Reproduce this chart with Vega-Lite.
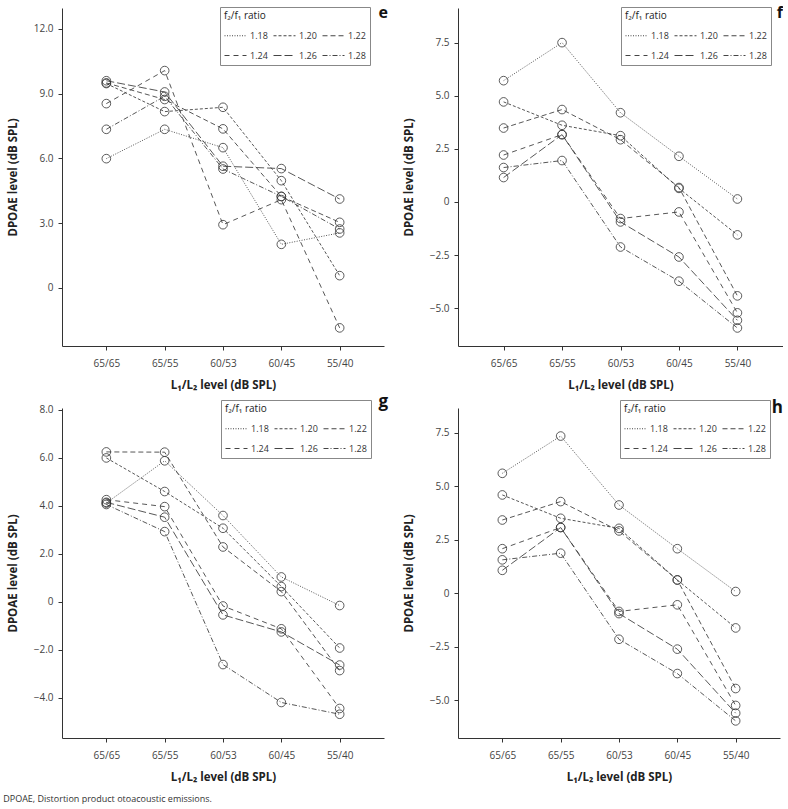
{
  "$schema": "https://vega.github.io/schema/vega-lite/v6.json",
  "padding": {"left": 3, "top": 4, "right": 0, "bottom": 2},
  "background": "white",
  "title": {"text": "DPOAE, Distortion product otoacoustic emissions.", "orient": "bottom", "anchor": "start", "fontSize": 9, "fontWeight": "normal", "font": "Open Sans", "color": "#333", "offset": 12, "dx": -4},
  "data": {"values": [
    {"panel":"e","ratio":"1.18","level":"65/65","value":5.99},{"panel":"e","ratio":"1.18","level":"65/55","value":7.35},{"panel":"e","ratio":"1.18","level":"60/53","value":6.5},{"panel":"e","ratio":"1.18","level":"60/45","value":2.02},{"panel":"e","ratio":"1.18","level":"55/40","value":2.55},
    {"panel":"e","ratio":"1.20","level":"65/65","value":9.47},{"panel":"e","ratio":"1.20","level":"65/55","value":8.17},{"panel":"e","ratio":"1.20","level":"60/53","value":8.37},{"panel":"e","ratio":"1.20","level":"60/45","value":4.97},{"panel":"e","ratio":"1.20","level":"55/40","value":0.57},
    {"panel":"e","ratio":"1.22","level":"65/65","value":9.5},{"panel":"e","ratio":"1.22","level":"65/55","value":8.73},{"panel":"e","ratio":"1.22","level":"60/53","value":7.37},{"panel":"e","ratio":"1.22","level":"60/45","value":4.24},{"panel":"e","ratio":"1.22","level":"55/40","value":3.04},
    {"panel":"e","ratio":"1.24","level":"65/65","value":8.54},{"panel":"e","ratio":"1.24","level":"65/55","value":10.07},{"panel":"e","ratio":"1.24","level":"60/53","value":2.93},{"panel":"e","ratio":"1.24","level":"60/45","value":4.09},{"panel":"e","ratio":"1.24","level":"55/40","value":-1.85},
    {"panel":"e","ratio":"1.26","level":"65/65","value":9.6},{"panel":"e","ratio":"1.26","level":"65/55","value":9.08},{"panel":"e","ratio":"1.26","level":"60/53","value":5.64},{"panel":"e","ratio":"1.26","level":"60/45","value":5.53},{"panel":"e","ratio":"1.26","level":"55/40","value":4.12},
    {"panel":"e","ratio":"1.28","level":"65/65","value":7.35},{"panel":"e","ratio":"1.28","level":"65/55","value":8.88},{"panel":"e","ratio":"1.28","level":"60/53","value":5.51},{"panel":"e","ratio":"1.28","level":"60/45","value":4.24},{"panel":"e","ratio":"1.28","level":"55/40","value":2.73},
    {"panel":"f","ratio":"1.18","level":"65/65","value":5.71},{"panel":"f","ratio":"1.18","level":"65/55","value":7.5},{"panel":"f","ratio":"1.18","level":"60/53","value":4.2},{"panel":"f","ratio":"1.18","level":"60/45","value":2.15},{"panel":"f","ratio":"1.18","level":"55/40","value":0.14},
    {"panel":"f","ratio":"1.20","level":"65/65","value":4.71},{"panel":"f","ratio":"1.20","level":"65/55","value":3.61},{"panel":"f","ratio":"1.20","level":"60/53","value":3.12},{"panel":"f","ratio":"1.20","level":"60/45","value":0.64},{"panel":"f","ratio":"1.20","level":"55/40","value":-1.55},
    {"panel":"f","ratio":"1.22","level":"65/65","value":3.48},{"panel":"f","ratio":"1.22","level":"65/55","value":4.35},{"panel":"f","ratio":"1.22","level":"60/53","value":2.93},{"panel":"f","ratio":"1.22","level":"60/45","value":0.68},{"panel":"f","ratio":"1.22","level":"55/40","value":-4.42},
    {"panel":"f","ratio":"1.24","level":"65/65","value":2.21},{"panel":"f","ratio":"1.24","level":"65/55","value":3.17},{"panel":"f","ratio":"1.24","level":"60/53","value":-0.78},{"panel":"f","ratio":"1.24","level":"60/45","value":-0.47},{"panel":"f","ratio":"1.24","level":"55/40","value":-5.22},
    {"panel":"f","ratio":"1.26","level":"65/65","value":1.15},{"panel":"f","ratio":"1.26","level":"65/55","value":3.17},{"panel":"f","ratio":"1.26","level":"60/53","value":-0.94},{"panel":"f","ratio":"1.26","level":"60/45","value":-2.59},{"panel":"f","ratio":"1.26","level":"55/40","value":-5.57},
    {"panel":"f","ratio":"1.28","level":"65/65","value":1.62},{"panel":"f","ratio":"1.28","level":"65/55","value":1.95},{"panel":"f","ratio":"1.28","level":"60/53","value":-2.12},{"panel":"f","ratio":"1.28","level":"60/45","value":-3.73},{"panel":"f","ratio":"1.28","level":"55/40","value":-5.93},
    {"panel":"g","ratio":"1.18","level":"65/65","value":4.12},{"panel":"g","ratio":"1.18","level":"65/55","value":5.88},{"panel":"g","ratio":"1.18","level":"60/53","value":3.6},{"panel":"g","ratio":"1.18","level":"60/45","value":1.04},{"panel":"g","ratio":"1.18","level":"55/40","value":-0.15},
    {"panel":"g","ratio":"1.20","level":"65/65","value":6.0},{"panel":"g","ratio":"1.20","level":"65/55","value":4.6},{"panel":"g","ratio":"1.20","level":"60/53","value":3.07},{"panel":"g","ratio":"1.20","level":"60/45","value":0.64},{"panel":"g","ratio":"1.20","level":"55/40","value":-1.92},
    {"panel":"g","ratio":"1.22","level":"65/65","value":6.25},{"panel":"g","ratio":"1.22","level":"65/55","value":6.24},{"panel":"g","ratio":"1.22","level":"60/53","value":2.29},{"panel":"g","ratio":"1.22","level":"60/45","value":0.43},{"panel":"g","ratio":"1.22","level":"55/40","value":-2.86},
    {"panel":"g","ratio":"1.24","level":"65/65","value":4.26},{"panel":"g","ratio":"1.24","level":"65/55","value":3.97},{"panel":"g","ratio":"1.24","level":"60/53","value":-0.17},{"panel":"g","ratio":"1.24","level":"60/45","value":-1.12},{"panel":"g","ratio":"1.24","level":"55/40","value":-4.44},
    {"panel":"g","ratio":"1.26","level":"65/65","value":4.15},{"panel":"g","ratio":"1.26","level":"65/55","value":3.53},{"panel":"g","ratio":"1.26","level":"60/53","value":-0.54},{"panel":"g","ratio":"1.26","level":"60/45","value":-1.25},{"panel":"g","ratio":"1.26","level":"55/40","value":-2.63},
    {"panel":"g","ratio":"1.28","level":"65/65","value":4.06},{"panel":"g","ratio":"1.28","level":"65/55","value":2.93},{"panel":"g","ratio":"1.28","level":"60/53","value":-2.61},{"panel":"g","ratio":"1.28","level":"60/45","value":-4.19},{"panel":"g","ratio":"1.28","level":"55/40","value":-4.68},
    {"panel":"h","ratio":"1.18","level":"65/65","value":5.6},{"panel":"h","ratio":"1.18","level":"65/55","value":7.34},{"panel":"h","ratio":"1.18","level":"60/53","value":4.12},{"panel":"h","ratio":"1.18","level":"60/45","value":2.08},{"panel":"h","ratio":"1.18","level":"55/40","value":0.08},
    {"panel":"h","ratio":"1.20","level":"65/65","value":4.59},{"panel":"h","ratio":"1.20","level":"65/55","value":3.5},{"panel":"h","ratio":"1.20","level":"60/53","value":3.03},{"panel":"h","ratio":"1.20","level":"60/45","value":0.62},{"panel":"h","ratio":"1.20","level":"55/40","value":-1.62},
    {"panel":"h","ratio":"1.22","level":"65/65","value":3.42},{"panel":"h","ratio":"1.22","level":"65/55","value":4.28},{"panel":"h","ratio":"1.22","level":"60/53","value":2.91},{"panel":"h","ratio":"1.22","level":"60/45","value":0.62},{"panel":"h","ratio":"1.22","level":"55/40","value":-4.45},
    {"panel":"h","ratio":"1.24","level":"65/65","value":2.08},{"panel":"h","ratio":"1.24","level":"65/55","value":3.07},{"panel":"h","ratio":"1.24","level":"60/53","value":-0.85},{"panel":"h","ratio":"1.24","level":"60/45","value":-0.54},{"panel":"h","ratio":"1.24","level":"55/40","value":-5.24},
    {"panel":"h","ratio":"1.26","level":"65/65","value":1.07},{"panel":"h","ratio":"1.26","level":"65/55","value":3.07},{"panel":"h","ratio":"1.26","level":"60/53","value":-0.95},{"panel":"h","ratio":"1.26","level":"60/45","value":-2.61},{"panel":"h","ratio":"1.26","level":"55/40","value":-5.6},
    {"panel":"h","ratio":"1.28","level":"65/65","value":1.56},{"panel":"h","ratio":"1.28","level":"65/55","value":1.87},{"panel":"h","ratio":"1.28","level":"60/53","value":-2.15},{"panel":"h","ratio":"1.28","level":"60/45","value":-3.75},{"panel":"h","ratio":"1.28","level":"55/40","value":-5.96}
  ]},
  "resolve": {"scale": {"strokeDash": "independent"}, "legend": {"strokeDash": "independent"}},
  "vconcat": [
    {"resolve": {"scale": {"strokeDash": "independent"}, "legend": {"strokeDash": "independent"}},
     "hconcat": [
      {"width": 322, "height": 338,
       "transform": [{"filter": "datum.panel === 'e'"}],
       "title": {"text": "e", "anchor": "end", "frame": "group", "fontSize": 16, "fontWeight": "bold", "font": "Open Sans", "color": "#111", "offset": 0, "dy": 14, "dx": 4},
       "encoding": {
         "x": {"field": "level", "type": "ordinal", "sort": ["65/65","65/55","60/53","60/45","55/40"], "scale": {"type": "point", "padding": 0.76}, "axis": {"title": "L₁/L₂ level (dB SPL)"}},
         "y": {"field": "value", "type": "quantitative", "scale": {"domain": [-2.69, 12.97], "nice": false, "zero": false}, "axis": {"values": [0, 3, 6, 9, 12], "title": "DPOAE level (dB SPL)"}}
       },
       "layer": [
         {"mark": {"type": "line", "color": "#444", "strokeWidth": 0.9}, "encoding": {"strokeDash": {"field": "ratio", "type": "nominal", "title": "f₂/f₁ ratio", "scale": {"domain": ["1.18","1.20","1.22","1.24","1.26","1.28"], "range": [[1,1.5],[3,2],[5,3],[5,4],[8,3],[5,2,1,2]]}, "legend": {"orient": "none", "legendX": 158, "legendY": -1}}}},
         {"mark": {"type": "point", "shape": "circle", "filled": false, "size": 75, "color": "#333", "strokeWidth": 0.8, "opacity": 1}}
       ]},
      {"width": 325, "height": 338,
       "transform": [{"filter": "datum.panel === 'f'"}],
       "title": {"text": "f", "anchor": "end", "frame": "group", "fontSize": 16, "fontWeight": "bold", "font": "Open Sans", "color": "#111", "offset": 0, "dy": 14, "dx": 0},
       "encoding": {
         "x": {"field": "level", "type": "ordinal", "sort": ["65/65","65/55","60/53","60/45","55/40"], "scale": {"type": "point", "padding": 0.78}, "axis": {"title": "L₁/L₂ level (dB SPL)"}},
         "y": {"field": "value", "type": "quantitative", "scale": {"domain": [-6.78, 9.13], "nice": false, "zero": false}, "axis": {"values": [-5, -2.5, 0, 2.5, 5, 7.5], "title": "DPOAE level (dB SPL)"}}
       },
       "layer": [
         {"mark": {"type": "line", "color": "#444", "strokeWidth": 0.9}, "encoding": {"strokeDash": {"field": "ratio", "type": "nominal", "title": "f₂/f₁ ratio", "scale": {"domain": ["1.18","1.20","1.22","1.24","1.26","1.28"], "range": [[1,1.5],[3,2],[5,3],[5,4],[8,3],[5,2,1,2]]}, "legend": {"orient": "none", "legendX": 163, "legendY": -1}}}},
         {"mark": {"type": "point", "shape": "circle", "filled": false, "size": 75, "color": "#333", "strokeWidth": 0.8, "opacity": 1}}
       ]}
    ]},
    {"resolve": {"scale": {"strokeDash": "independent"}, "legend": {"strokeDash": "independent"}},
     "hconcat": [
      {"width": 322, "height": 330,
       "transform": [{"filter": "datum.panel === 'g'"}],
       "title": {"text": "g", "anchor": "end", "frame": "group", "fontSize": 17, "fontWeight": "bold", "font": "Open Sans", "color": "#111", "offset": 0, "dy": 11, "dx": 4},
       "encoding": {
         "x": {"field": "level", "type": "ordinal", "sort": ["65/65","65/55","60/53","60/45","55/40"], "scale": {"type": "point", "padding": 0.76}, "axis": {"title": "L₁/L₂ level (dB SPL)"}},
         "y": {"field": "value", "type": "quantitative", "scale": {"domain": [-5.67, 8.08], "nice": false, "zero": false}, "axis": {"values": [-4, -2, 0, 2, 4, 6, 8], "title": "DPOAE level (dB SPL)"}}
       },
       "layer": [
         {"mark": {"type": "line", "color": "#444", "strokeWidth": 0.9}, "encoding": {"strokeDash": {"field": "ratio", "type": "nominal", "title": "f₂/f₁ ratio", "scale": {"domain": ["1.18","1.20","1.22","1.24","1.26","1.28"], "range": [[1,1.5],[3,2],[5,3],[5,4],[8,3],[5,2,1,2]]}, "legend": {"orient": "none", "legendX": 159, "legendY": -8}}}},
         {"mark": {"type": "point", "shape": "circle", "filled": false, "size": 75, "color": "#333", "strokeWidth": 0.8, "opacity": 1}}
       ]},
      {"width": 322, "height": 330,
       "transform": [{"filter": "datum.panel === 'h'"}],
       "title": {"text": "h", "anchor": "end", "frame": "group", "fontSize": 17, "fontWeight": "bold", "font": "Open Sans", "color": "#111", "offset": 0, "dy": 17, "dx": 3},
       "encoding": {
         "x": {"field": "level", "type": "ordinal", "sort": ["65/65","65/55","60/53","60/45","55/40"], "scale": {"type": "point", "padding": 0.76}, "axis": {"title": "L₁/L₂ level (dB SPL)"}},
         "y": {"field": "value", "type": "quantitative", "scale": {"domain": [-6.76, 8.65], "nice": false, "zero": false}, "axis": {"values": [-5, -2.5, 0, 2.5, 5, 7.5], "title": "DPOAE level (dB SPL)"}}
       },
       "layer": [
         {"mark": {"type": "line", "color": "#444", "strokeWidth": 0.9}, "encoding": {"strokeDash": {"field": "ratio", "type": "nominal", "title": "f₂/f₁ ratio", "scale": {"domain": ["1.18","1.20","1.22","1.24","1.26","1.28"], "range": [[1,1.5],[3,2],[5,3],[5,4],[8,3],[5,2,1,2]]}, "legend": {"orient": "none", "legendX": 162, "legendY": -8}}}},
         {"mark": {"type": "point", "shape": "circle", "filled": false, "size": 75, "color": "#333", "strokeWidth": 0.8, "opacity": 1}}
       ]}
    ]}
  ],
  "spacing": 1,
  "config": {
    "font": "Open Sans",
    "view": {"stroke": null},
    "concat": {"spacing": 15},
    "axis": {"grid": false, "domainColor": "#333", "tickColor": "#333", "tickSize": 4, "labelColor": "#444", "labelFont": "Open Sans", "labelFontSize": 10, "titleFont": "Open Sans", "titleFontSize": 11.5, "titleFontWeight": "bold", "titleColor": "#222"},
    "axisX": {"labelAngle": 0, "labelPadding": 8, "titlePadding": 11},
    "axisY": {"labelExpr": "datum.value == 0 ? '0' : format(datum.value, '.1f')", "labelPadding": 5, "titlePadding": 15},
    "legend": {"columns": 3, "direction": "horizontal", "symbolType": "stroke", "symbolSize": 484, "symbolStrokeWidth": 1, "symbolStrokeColor": "#444", "labelFontSize": 9, "labelColor": "#333", "titleFontSize": 10, "titleFontWeight": "normal", "titleColor": "#222", "titlePadding": 3, "strokeColor": "#888", "fillColor": "white", "padding": 4, "columnPadding": 3, "rowPadding": 3, "labelOffset": 3}
  }
}
